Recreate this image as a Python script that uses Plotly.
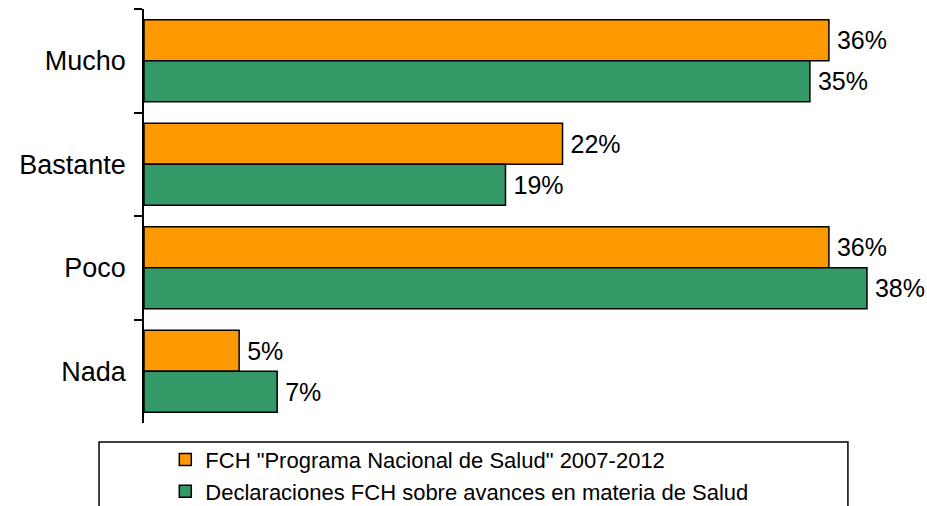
import plotly.graph_objects as go

categories = ["Mucho", "Bastante", "Poco", "Nada"]
programa = [36, 22, 36, 5]
declaraciones = [35, 19, 38, 7]
series_names = ['FCH "Programa Nacional de Salud" 2007-2012',
                'Declaraciones FCH sobre avances en materia de Salud']

FONT = "Liberation Sans, Arial, sans-serif"

fig = go.Figure()
for name, vals, color, grp in [(series_names[0], programa, "#FF9900", "a"),
                               (series_names[1], declaraciones, "#339966", "b")]:
    fig.add_trace(go.Bar(
        y=categories, x=vals, orientation="h", name=name, legendgroup=grp,
        marker=dict(color=color, line=dict(color="black", width=1.5)),
        text=[f"\u2009{v}%" for v in vals], textposition="outside",
        textfont=dict(family=FONT, size=25, color="black"),
        cliponaxis=False,
    ))

fig.update_layout(
    width=927, height=506,
    margin=dict(l=144, r=22, t=9, b=83, autoexpand=False),
    paper_bgcolor="white", plot_bgcolor="white",
    barmode="group", bargap=0.21, bargroupgap=0,
    font=dict(family=FONT, color="black"),
    showlegend=True,
    legend=dict(
        x=0.028, y=-0.038, xanchor="left", yanchor="top",
        orientation="v", traceorder="grouped", tracegroupgap=0,
        font=dict(family=FONT, size=22, color="black"),
        bgcolor="rgba(0,0,0,0)", borderwidth=0,
    ),
    xaxis=dict(range=[0, 40], visible=False, showgrid=False, zeroline=False),
    yaxis=dict(
        type="category", range=[3.5, -0.5], automargin=False,
        showline=True, linecolor="black", linewidth=1.5,
        ticks="outside", tickson="boundaries", ticklen=8, tickwidth=1.5,
        tickcolor="black", ticklabelstandoff=11,
        tickfont=dict(family=FONT, size=27, color="black"),
        showgrid=False, zeroline=False,
    ),
    shapes=[dict(type="rect", xref="paper", yref="paper",
                 x0=-0.0591, x1=0.925, y0=-0.0459, y1=-0.3,
                 line=dict(color="black", width=1.5), fillcolor="rgba(0,0,0,0)")],
)

fig.write_html(
    "out.html",
    config={"displayModeBar": False},
    post_script="document.body.style.margin='0';document.body.style.overflow='hidden';",
)
